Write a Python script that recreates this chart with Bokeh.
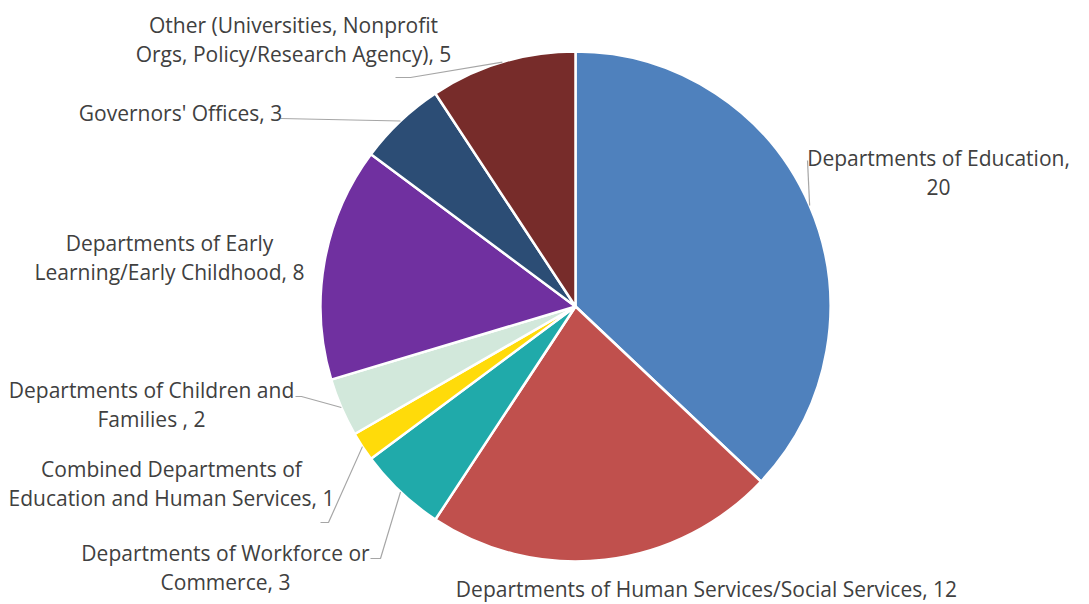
import math
from bokeh.plotting import figure
from bokeh.models import Range1d, ColumnDataSource
from bokeh.core.properties import value
from bokeh.embed import file_html
from bokeh.resources import INLINE

# ---- data ----
categories = [
    "Departments of Education",
    "Departments of Human Services/Social Services",
    "Departments of Workforce or Commerce",
    "Combined Departments of Education and Human Services",
    "Departments of Children and Families ",
    "Departments of Early Learning/Early Childhood",
    "Governors' Offices",
    "Other (Universities, Nonprofit Orgs, Policy/Research Agency)",
]
counts = [20, 12, 3, 1, 2, 8, 3, 5]
colors = ["#4F81BD", "#C0504D", "#20AAAA", "#FFDB0A", "#D2E8DB",
          "#7030A0", "#2C4D75", "#772C2A"]

# label line breaks (number of words on first line; None = single line)
first_line_words = [3, None, 4, 3, 4, 3, None, 3]

# ---- layout ----
W, H = 1089, 604
CX, CY, R = 575, 306, 255
FONT = "Open Sans"
FS = "21px"
TXT = "#404040"

def Y(y):
    return H - y

# label anchors (screen px: centre x, first-line y)
label_pos = [(938, 157), (706, 588), (225, 552), (171, 468), (151, 389),
             (169, 242), (180, 112), (293, 24)]
# leader elbow points (screen px) or None
leader_elbow = [[(807, 160)], None, [(380, 558), (370, 558)],
                [(328, 522), (320, 522)], [(301, 396), (295, 396)], None,
                [(280, 118)], [(410, 77), (395, 77)]]

p = figure(width=W, height=H, x_range=Range1d(0, W), y_range=Range1d(0, H),
           output_backend="svg", toolbar_location=None, min_border=0,
           outline_line_color=None, background_fill_color="white")
p.axis.visible = False
p.grid.visible = False

total = sum(counts)
starts, ends, mids = [], [], []
cum = 0
for c in counts:
    a0 = math.pi / 2 - 2 * math.pi * cum / total
    a1 = math.pi / 2 - 2 * math.pi * (cum + c) / total
    mids.append(math.pi / 2 - 2 * math.pi * (cum + c / 2) / total)
    starts.append(a1)
    ends.append(a0)
    cum += c

src = ColumnDataSource(dict(start=starts, end=ends, color=colors))
p.wedge(x=CX, y=Y(CY), radius=R, start_angle="start", end_angle="end",
        fill_color="color", line_color="white", line_width=2.5, source=src)

# leader lines
for i, elbow in enumerate(leader_elbow):
    if not elbow:
        continue
    ex = CX + R * math.cos(mids[i])
    ey = Y(CY) + R * math.sin(mids[i])
    xs = [ex] + [pt[0] for pt in elbow]
    ys = [ey] + [Y(pt[1]) for pt in elbow]
    p.line(xs, ys, line_color="#A6A6A6", line_width=1.2)

# labels
lx, ly, lt = [], [], []
for i, (cat, v) in enumerate(zip(categories, counts)):
    full = f"{cat}, {v}"
    words = full.split(" ")
    k = first_line_words[i]
    lines = [full] if k is None else [" ".join(words[:k]), " ".join(words[k:])]
    x0, y0 = label_pos[i]
    for j, line in enumerate(lines):
        lx.append(x0)
        ly.append(Y(y0 + 29 * j))
        lt.append(line)

p.text(x=lx, y=ly, text=lt, text_font=value(FONT), text_font_size=FS,
       text_color=TXT, text_align="center", text_baseline="middle")

open("out.html", "w").write(file_html(p, INLINE))
